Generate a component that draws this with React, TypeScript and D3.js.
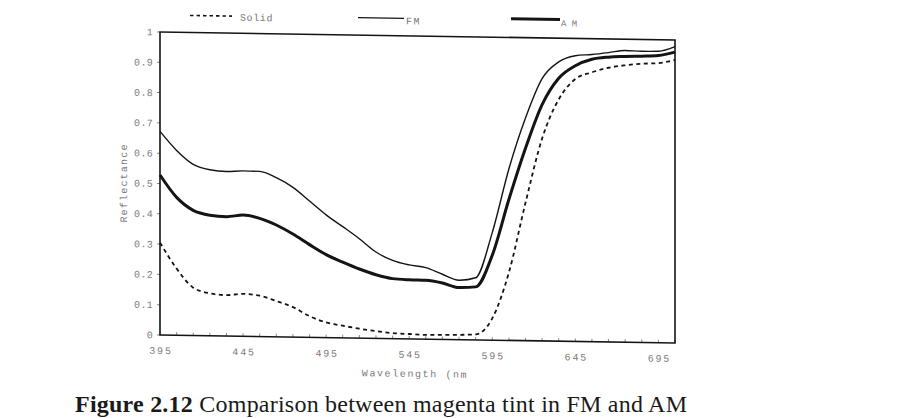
import React from 'react';
import * as d3 from 'd3';

// Wavelength samples (nm) shared by all three series
const wavelengths = [
  395, 405, 415, 425, 435, 445, 455, 465, 475, 485, 495, 505, 515, 525, 535, 545,
  555, 565, 575, 585, 595, 605, 615, 625, 635, 645, 655, 665, 675, 685, 695, 705,
];

// Reflectance of the solid magenta patch
const solid = [
  0.305, 0.22, 0.158, 0.14, 0.135, 0.14, 0.135, 0.118, 0.099, 0.07, 0.05, 0.04, 0.031, 0.024, 0.018, 0.016,
  0.014, 0.015, 0.016, 0.018, 0.072, 0.224, 0.455, 0.668, 0.798, 0.866, 0.889, 0.905, 0.914, 0.92, 0.923, 0.934,
];

// Reflectance of the FM-screened tint
const fm = [
  0.672, 0.61, 0.565, 0.548, 0.543, 0.546, 0.545, 0.525, 0.494, 0.45, 0.405, 0.367, 0.328, 0.285, 0.258, 0.244,
  0.236, 0.215, 0.196, 0.205, 0.355, 0.566, 0.735, 0.866, 0.922, 0.943, 0.948, 0.955, 0.963, 0.961, 0.962, 0.978,
];

// Reflectance of the AM-screened tint
const am = [
  0.528, 0.455, 0.413, 0.398, 0.394, 0.4, 0.39, 0.369, 0.34, 0.306, 0.274, 0.25, 0.228, 0.21, 0.198, 0.195,
  0.194, 0.186, 0.172, 0.175, 0.28, 0.465, 0.635, 0.78, 0.868, 0.91, 0.932, 0.94, 0.943, 0.945, 0.948, 0.96,
];

const xTickLabels = [395, 445, 495, 545, 595, 645, 695];
const xMinorTicks = d3.range(395, 706, 10);
const yTickValues = [0, 0.1, 0.2, 0.3, 0.4, 0.5, 0.6, 0.7, 0.8, 0.9, 1];

const legendNames = ['Solid', 'FM', 'A M'];
const axisTitleX = 'Wavelength  (nm';
const axisTitleY = 'Reflectance';
const captionBold = 'Figure 2.12';
const captionText = ' Comparison between magenta tint in FM and AM';

export default function App() {
  const W = 907;
  const H = 418;
  const left = 160;
  const top = 32;
  const pw = 515;
  const ph = 303;
  // the printed chart sits on a slight slant
  const skewDeg = (Math.atan(8 / 515) * 180) / Math.PI;

  const x = d3.scaleLinear().domain([395, 705]).range([0, pw]);
  const y = d3.scaleLinear().domain([0, 1]).range([ph, 0]);

  const lineFor = (vals: number[]) =>
    d3
      .line<number>()
      .x((_, i) => x(wavelengths[i]))
      .y((d) => y(d))
      .curve(d3.curveMonotoneX)(vals) || '';

  const mono = '"Liberation Mono", "DejaVu Sans Mono", monospace';
  const textGray = '#7a7a7a';
  const ink = '#141414';

  const fmtY = (v: number) => (v === 0 ? '0' : v === 1 ? '1' : v.toFixed(1));

  return (
    <svg
      width={W}
      height={H}
      style={{ position: 'absolute', left: 0, top: 0, background: '#fff' }}
    >
      <rect x={0} y={0} width={W} height={H} fill="#fff" />
      <g transform={`translate(${left},${top}) skewY(${skewDeg})`}>
        {/* legend */}
        <g fontFamily={mono} fontSize={10} fill={textGray}>
          <line x1={30} x2={72} y1={-17} y2={-17} stroke={ink} strokeWidth={1.6} strokeDasharray="3.5 3" />
          <text x={80} y={-12.5} letterSpacing={0.6}>{legendNames[0]}</text>
          <line x1={198} x2={244} y1={-17.5} y2={-17.5} stroke={ink} strokeWidth={1.3} />
          <text x={246} y={-11.5} letterSpacing={1.5}>{legendNames[1]}</text>
          <line x1={351} x2={400} y1={-18.6} y2={-18.6} stroke={ink} strokeWidth={3} />
          <text x={401} y={-12} fontSize={9}>{legendNames[2]}</text>
        </g>

        {/* x minor ticks */}
        {xMinorTicks.map((t) => (
          <line key={`xt${t}`} x1={x(t)} x2={x(t)} y1={ph} y2={ph - 3} stroke="#888" strokeWidth={1} />
        ))}
        {/* y ticks */}
        {yTickValues.map((t) => (
          <line key={`yt${t}`} x1={-3} x2={0} y1={y(t)} y2={y(t)} stroke="#888" strokeWidth={1} />
        ))}

        {/* series */}
        <path d={lineFor(solid)} fill="none" stroke={ink} strokeWidth={1.8} strokeDasharray="4 3.5" />
        <path d={lineFor(fm)} fill="none" stroke={ink} strokeWidth={1.4} />
        <path d={lineFor(am)} fill="none" stroke={ink} strokeWidth={3} />

        {/* frame */}
        <rect x={0} y={0} width={pw} height={ph} fill="none" stroke={ink} strokeWidth={1.6} />

        {/* tick labels */}
        <g fontFamily={mono} fontSize={10} fill={textGray}>
          {yTickValues.map((t) => (
            <text key={`yl${t}`} x={-7} y={y(t)} dy="0.35em" textAnchor="end" letterSpacing={0.3}>
              {fmtY(t)}
            </text>
          ))}
          {xTickLabels.map((t) => (
            <text key={`xl${t}`} x={x(t) + 1} y={ph + 19} textAnchor="middle" letterSpacing={1.8}>
              {t}
            </text>
          ))}
          <text x={255} y={ph + 38} textAnchor="middle" letterSpacing={1.6}>
            {axisTitleX}
          </text>
          <text
            transform={`translate(-37,${ph / 2}) rotate(-90)`}
            textAnchor="middle"
            dy="0.35em"
            letterSpacing={1.2}
          >
            {axisTitleY}
          </text>
        </g>
      </g>

      {/* caption */}
      <text
        x={75}
        y={412}
        fontFamily='"Liberation Serif", "DejaVu Serif", serif'
        fontSize={24}
        fill="#1a1a1a"
        textLength={612}
        lengthAdjust="spacing"
      >
        <tspan fontWeight="bold">{captionBold}</tspan>
        <tspan>{captionText}</tspan>
      </text>
    </svg>
  );
}
